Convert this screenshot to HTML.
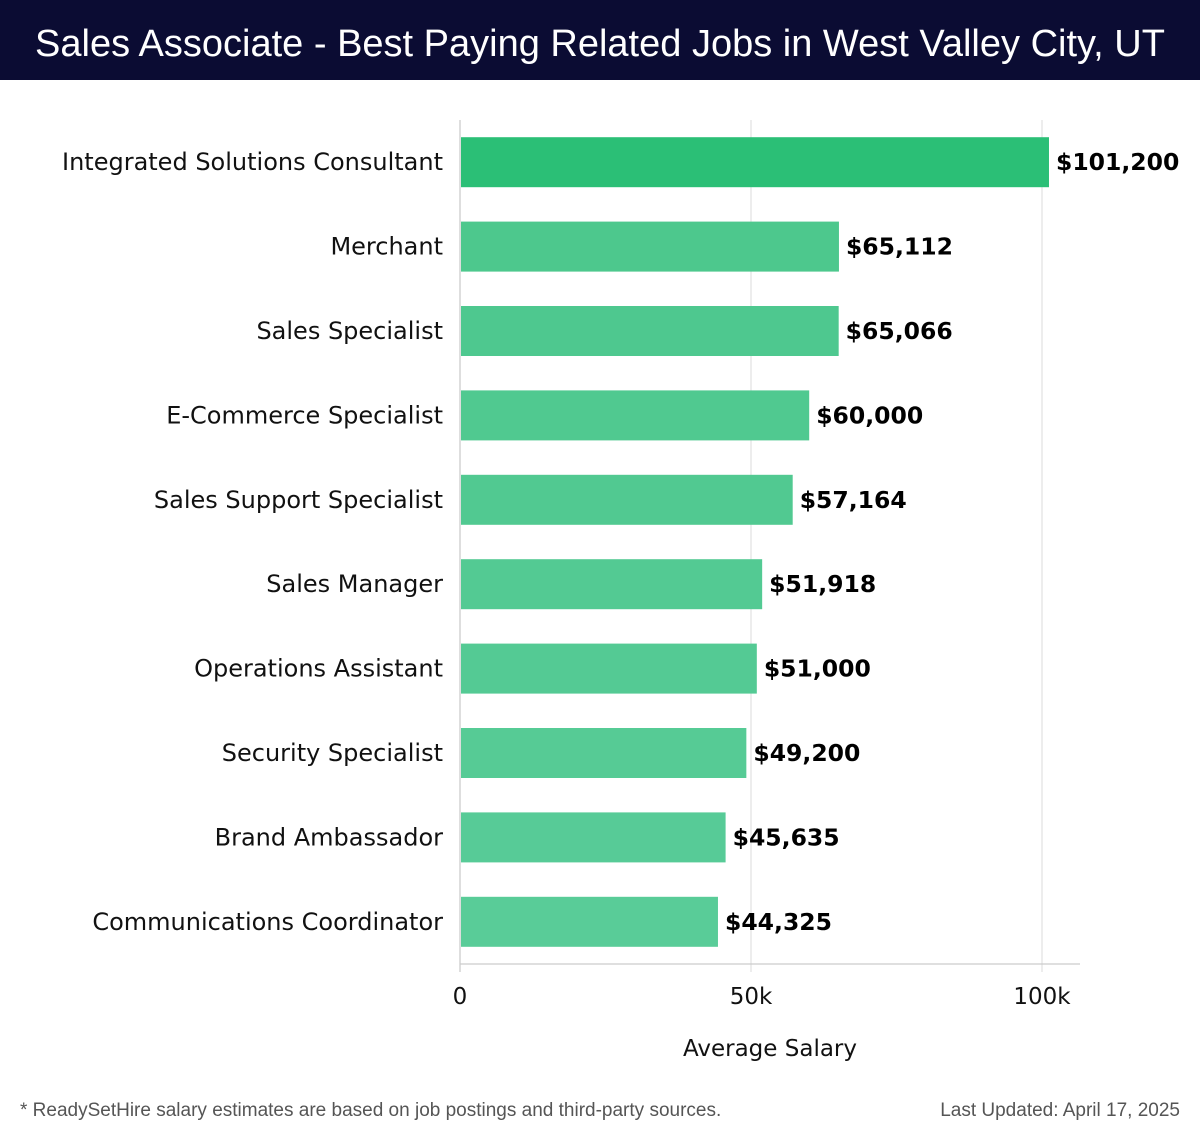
<!DOCTYPE html>
<html><head><meta charset="utf-8">
<style>
body{margin:0;width:1200px;height:1140px;background:#fff;overflow:hidden;font-family:"DejaVu Sans","Liberation Sans",sans-serif;}
#hdr{position:absolute;left:0;top:0;width:1200px;height:80px;background:#0b0c33;color:#fff;font-family:"Liberation Sans",sans-serif;font-size:38px;line-height:88px;text-align:center;}
#chart{position:absolute;left:0;top:0;}
.foot{position:absolute;top:1100px;font-family:"Liberation Sans",sans-serif;font-size:19px;color:#555;}
</style></head><body>
<div id="hdr">Sales Associate - Best Paying Related Jobs in West Valley City, UT</div>
<svg id="chart" width="1200" height="1140"></svg>
<div class="foot" style="left:20px">* ReadySetHire salary estimates are based on job postings and third-party sources.</div>
<div class="foot" style="right:20px">Last Updated: April 17, 2025</div>
<script>
const categories=["Integrated Solutions Consultant","Merchant","Sales Specialist","E-Commerce Specialist","Sales Support Specialist","Sales Manager","Operations Assistant","Security Specialist","Brand Ambassador","Communications Coordinator"];
const salaries=[101200,65112,65066,60000,57164,51918,51000,49200,45635,44325];
const valueLabels=["$101,200","$65,112","$65,066","$60,000","$57,164","$51,918","$51,000","$49,200","$45,635","$44,325"];
const tickValues=[0,50000,100000];
const tickLabels=["0","50k","100k"];
const NS="http://www.w3.org/2000/svg";
const svg=document.getElementById('chart');
const x0=460,pxPerUnit=(1042-460)/100000,plotTop=120,plotBottom=964,band=(plotBottom-plotTop)/categories.length,barH=50;
const xs=v=>x0+v*pxPerUnit;
const yc=i=>plotTop+band*(i+0.5);
function mk(t,a,txt){const e=document.createElementNS(NS,t);for(const k in a)e.setAttribute(k,a[k]);if(txt!==undefined)e.textContent=txt;svg.appendChild(e);return e;}
tickValues.forEach((v,i)=>{
 let g=mk('line',{x1:xs(v),x2:xs(v),y1:plotTop,y2:972,stroke:i==0?'#ccc':'#e3e3e3','stroke-width':1.3});
 
 
 let t=mk('text',{x:xs(v),y:1004,'text-anchor':'middle','font-size':23,fill:'#111'},tickLabels[i]);
 
 
});
let ax=mk('line',{x1:x0,x2:1080,y1:plotBottom,y2:plotBottom,stroke:'#ccc','stroke-width':1.3});


let at=mk('text',{x:770,y:1056,'text-anchor':'middle','font-size':23,fill:'#111'},'Average Salary');


categories.forEach((c,i)=>{
 const y=yc(i);
 const t=i/(categories.length-1);
 const col=i==0?'#2bbf76':`rgb(${Math.round(75+14*t)},${Math.round(199+5*t)},${Math.round(140+12*t)})`;
 let r=mk('rect',{x:x0+1,y:y-barH/2,width:xs(salaries[i])-x0-1,height:barH,fill:col});
 
 
 let l=mk('text',{x:443,y:y+8,'text-anchor':'end','font-size':24,fill:'#111'},c);
 
 
 let v=mk('text',{x:xs(salaries[i])+7,y:y+8,'font-size':23.5,'font-weight':'bold',fill:'#000'},valueLabels[i]);
 
 
});
</script>
</body></html>
